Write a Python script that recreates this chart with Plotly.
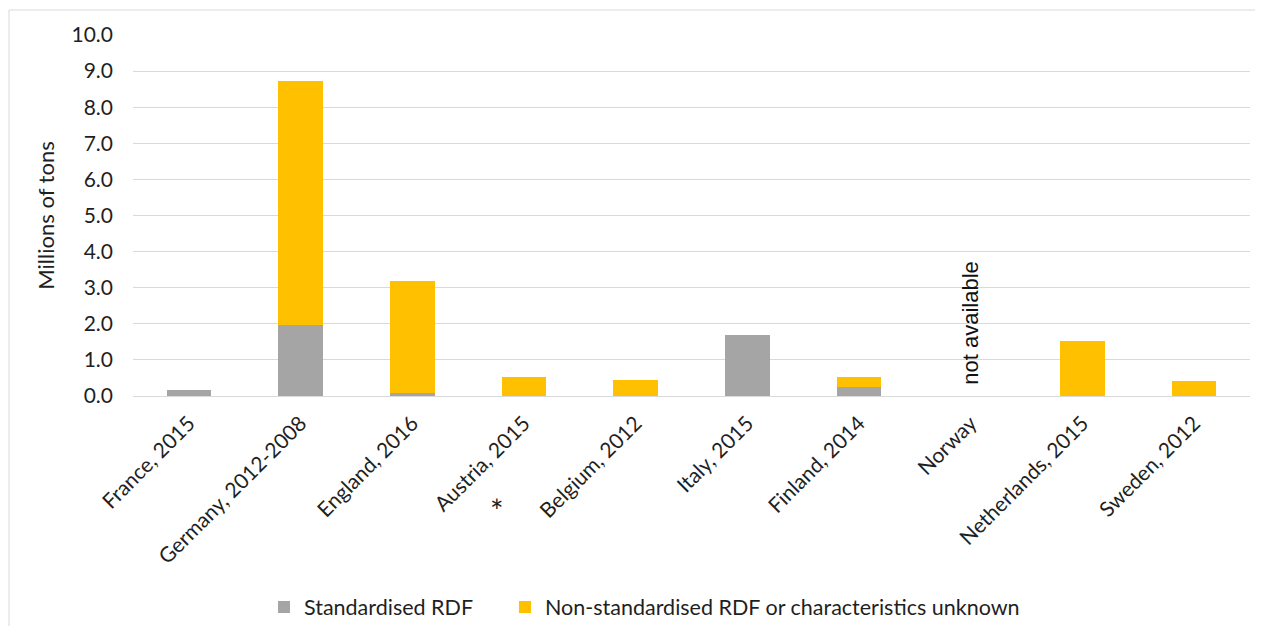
import plotly.graph_objects as go

categories = ["France, 2015", "Germany, 2012-2008", "England, 2016", "Austria, 2015",
              "Belgium, 2012", "Italy, 2015", "Finland, 2014", "Norway",
              "Netherlands, 2015", "Sweden, 2012"]
standardised = [0.17, 1.98, 0.09, 0, 0, 1.70, 0.26, None, 0, 0]
non_standardised = [0, 6.74, 3.10, 0.52, 0.44, 0, 0.26, None, 1.52, 0.41]
y_ticks = [0, 1, 2, 3, 4, 5, 6, 7, 8, 9, 10]

FONT = "Lato"
TXT = "#1f1f1f"

# page body has an 8px margin: figure is placed at (8, 8) on screen
OFF = 8
W, H = 1263 - 2 * OFF, 634 - 2 * OFF
L, T = 133 - OFF, 35 - OFF
R = W - (1250 - OFF)
B = H - (396 - OFF)
plot_w = W - L - R
plot_h = H - T - B


def px(sx):
    return (sx - OFF - L) / plot_w


def py(sy):
    return (H - B - (sy - OFF)) / plot_h


fig = go.Figure()
fig.add_trace(go.Bar(x=categories, y=standardised, name="Standardised RDF",
                     marker=dict(color="#a5a5a5", line=dict(width=0)), legend="legend"))
fig.add_trace(go.Bar(x=categories, y=non_standardised,
                     name="Non-standardised RDF or characteristics unknown",
                     marker=dict(color="#ffc000", line=dict(width=0)), legend="legend2"))

leg_font = dict(size=21.5, family=FONT, color=TXT)
fig.update_layout(
    width=W, height=H,
    barmode="stack", bargap=0.6,
    paper_bgcolor="white", plot_bgcolor="white",
    margin=dict(l=L, r=R, t=T, b=B, autoexpand=False),
    font=dict(family=FONT, color=TXT, size=20),
    legend=dict(orientation="h", x=px(264), xanchor="left", y=py(607), yanchor="middle",
                font=leg_font, itemwidth=30),
    legend2=dict(orientation="h", x=px(505), xanchor="left", y=py(607), yanchor="middle",
                 font=leg_font, itemwidth=30),
    showlegend=True,
)
fig.update_yaxes(range=[0, 10], tickvals=y_ticks, tickformat=".1f",
                 showgrid=True, gridcolor="#d9d9d9", gridwidth=1,
                 zeroline=True, zerolinecolor="#d9d9d9", zerolinewidth=1,
                 showline=False, ticks="", ticklen=0, ticklabelstandoff=19,
                 tickfont=dict(size=21, family=FONT, color=TXT),
                 title=dict(text="Millions of tons", font=dict(size=22, family=FONT, color=TXT),
                            standoff=10))
fig.update_xaxes(tickangle=-45, tickfont=dict(size=21, family=FONT, color=TXT),
                 ticklabelstandoff=10,
                 showline=False, showgrid=False, ticks="")

fig.add_annotation(x="Norway", xref="x", y=0.25, yref="y", text="not available",
                   textangle=-90, showarrow=False, yanchor="bottom", xanchor="center",
                   font=dict(family="Liberation Sans", size=22, color="#111"))
fig.add_annotation(x=px(497), xref="paper", y=py(510), yref="paper", text="*",
                   showarrow=False, xanchor="center", yanchor="middle",
                   font=dict(family=FONT, size=32, color=TXT))

fig.add_shape(type="rect", xref="paper", yref="paper",
              x0=px(9), x1=px(1300), y0=py(700), y1=py(10),
              line=dict(color="#d9d9d9", width=1), fillcolor="rgba(0,0,0,0)", layer="below")

fig.write_html("out.html")
